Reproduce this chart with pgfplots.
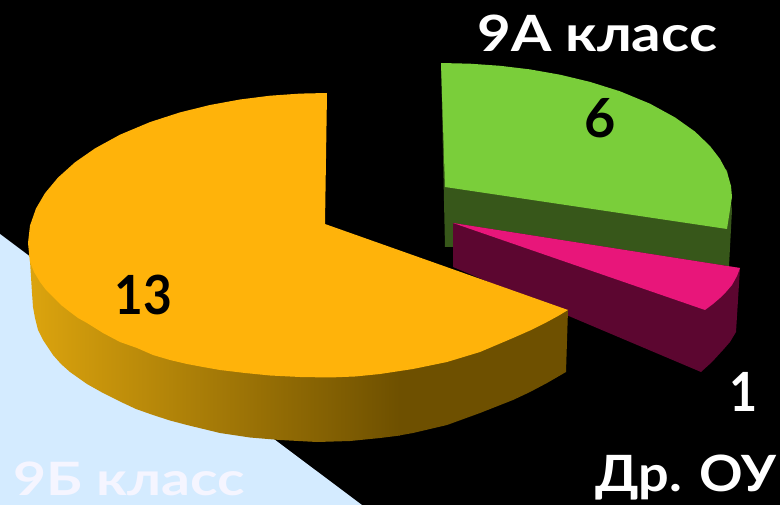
\documentclass[border=0pt]{standalone}
\usepackage{fontspec}
\setmainfont{Lato}[BoldFont={Lato Bold}]
\usepackage{pgfplots}
\pgfplotsset{compat=1.18}
\definecolor{bgblue}{HTML}{D4EBFF}
\definecolor{orangetop}{HTML}{FFB30A}
\definecolor{orangelight}{HTML}{DCA40E}
\definecolor{orangedark}{HTML}{6E5000}
\definecolor{greentop}{HTML}{7ACE3A}
\definecolor{greenside}{HTML}{37571A}
\definecolor{pinktop}{HTML}{E8167A}
\definecolor{pinkside}{HTML}{5C0630}
\newcommand{\lab}[1]{\fontsize{#1}{#1}\selectfont\bfseries}
\begin{document}
\begin{tikzpicture}
\path[use as bounding box,clip] (0,0) rectangle (780pt,505pt);
\begin{axis}[at={(0,0)},anchor=south west,width=780pt,height=505pt,scale only axis,
  hide axis,xmin=0,xmax=780,ymin=0,ymax=505,y dir=reverse,enlargelimits=false,clip=true]
% background
\addplot[fill=black,draw=none] coordinates {(0,0) (780,0) (780,505) (0,505)} -- cycle;
\addplot[fill=bgblue,draw=none] coordinates {(0,234) (362,505) (0,505)} -- cycle;
% 9A slice
\addplot[fill=greenside,draw=none] coordinates {(441,63) (445,247) (454,247) (729,266) (732,210) (727,170)} -- cycle;
\addplot[fill=greentop,draw=none] coordinates {(441,63) (470,63.7) (500,65.8) (530,69.4) (560,74.7) (590,81.9) (620,91.3) (650,103.7) (675,117.4) (695,131.6) (710,146) (720,159) (727,172) (731,186) (732,197) (727,229) (445,187)} -- cycle;
% other slice
\addplot[fill=pinkside,draw=none] coordinates {(453,223) (740,268) (738,300) (736,332) (730,342) (723,350) (712,362) (701,372) (453,267)} -- cycle;
\addplot[fill=pinktop,draw=none] coordinates {(453,223) (740,268) (737,276) (732,285) (726,292) (720,298) (713,304) (705,310)} -- cycle;
% 9B slice
\addplot[left color=orangelight,right color=orangedark,draw=none] coordinates {(400,300) (100,250) (29,245) (32,293) (33,307) (35,318) (38,330) (43,340) (53,355) (61,364) (70,372) (87,384) (103,393) (120,401.5) (136,409) (153,415) (170,420.5) (187,425) (220,433) (250,437.5) (280,440) (317,442) (350,441) (380,438) (400,435.5)} -- cycle;
\addplot[fill=orangedark,draw=none] coordinates {(399,300) (568,310) (566,372) (547,383) (530,392) (513,400) (480,413) (447,425) (413,433) (399,435.5)} -- cycle;
\addplot[fill=orangetop,draw=none] coordinates {(327,93) (300,93.6) (270,95.7) (240,99.5) (210,105) (180,112.4) (150,122.1) (120,134.7) (95,148.4) (75,162.3) (58,177.6) (45,193.2) (36,208.5) (30,225.6) (28,243) (29,253) (30,262) (34,272) (40,282) (46,290) (53,297) (61,305) (70,312) (78,318) (87,323) (103,333) (120,342) (137,348) (153,355) (170,360) (187,364) (203,367) (220,370) (245,373) (270,375.5) (300,377) (330,377.5) (355,376.5) (380,374) (413,369) (447,362) (480,352) (513,338) (530,330.5) (547,322) (558,316) (568,310) (325,224)} -- cycle;
% labels
\node[anchor=base west,white,inner sep=0pt,xscale=1.165] at (axis cs:477,52) {\lab{50}9А класс};
\node[anchor=base,black,inner sep=0pt] at (axis cs:600,138) {\lab{54}6};
\node[anchor=base,black,inner sep=0pt,xscale=0.92] at (axis cs:143,315) {\lab{54}13};
\node[anchor=base,white,inner sep=0pt,xscale=0.9] at (axis cs:744,411) {\lab{54}1};
\node[anchor=base west,white,inner sep=0pt,xscale=1.08] at (axis cs:595,491) {\lab{50}Др. ОУ};
\node[anchor=base west,white!96!blue,inner sep=0pt,xscale=1.24] at (axis cs:13,495) {\lab{46}9Б класс};
\end{axis}
\end{tikzpicture}
\end{document}
